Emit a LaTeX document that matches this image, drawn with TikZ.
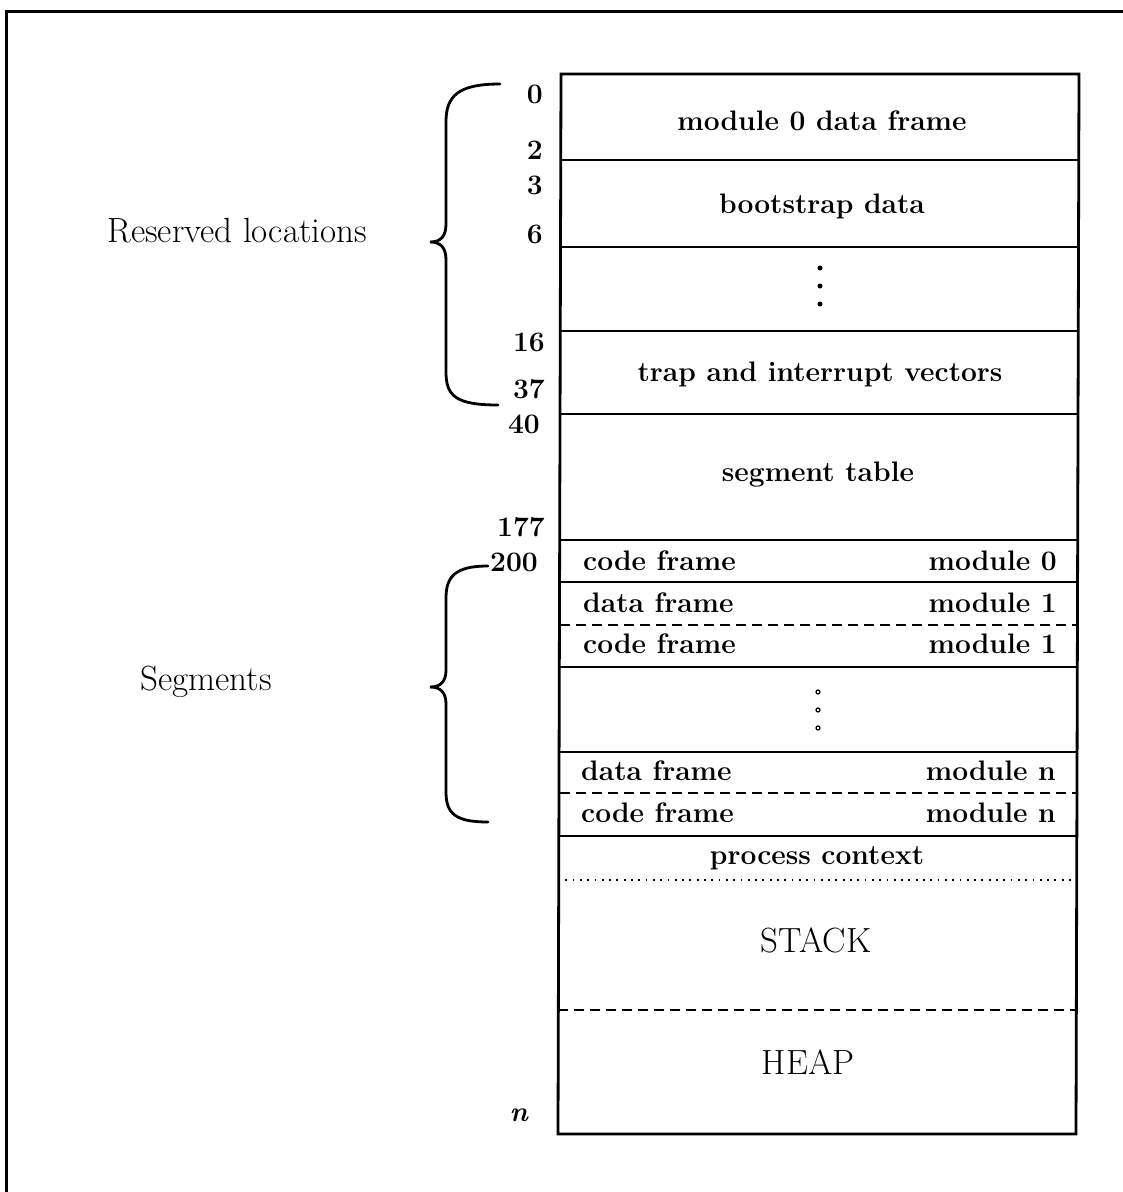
\documentclass[tikz,border=0pt]{standalone}
\usepackage{fontspec}
\begin{document}
\begin{tikzpicture}[x=1pt,y=-1pt,
  frame/.style={line width=3pt},
  sep/.style={line width=2.8pt},
  dsep/.style={line width=2.8pt, dash pattern=on 10pt off 6pt},
  dotsep/.style={line width=1.8pt, dash pattern=on 1.8pt off 5.5pt},
  bl/.style={inner sep=0pt, anchor=base, font=\fontsize{28.2}{33}\selectfont\bfseries},
  bll/.style={bl, anchor=base west},
  blr/.style={bl, anchor=base east},
  rl/.style={inner sep=0pt, anchor=base, font=\fontsize{35}{40}\selectfont},
  brace/.style={line width=2.8pt, line cap=round}]
\useasboundingbox (0,0) rectangle (1123,1192);
% outer frame
\draw[frame] (6,1192) -- (6,11) -- (1123,11);
% main box
\coordinate (TL) at (561,74);
\coordinate (TR) at (1079,74);
\coordinate (BL) at (558,1134);
\coordinate (BR) at (1076,1134);
\draw[sep] (TL) -- (TR) -- (BR) -- (BL) -- cycle;
\foreach \y in {160,247,331,414,540,582,667,752,836}
  \draw[sep] (560,\y) -- (1078,\y);
\foreach \y in {625,793}
  \draw[dsep] (560,\y) -- (1078,\y);
\draw[dsep] (558,1010) -- (1076,1010);
\draw[dotsep] (558,880) -- (1076,880);
% texts in box
\node[bl] (m0) at (822,130) {module 0 data frame};
\node[bl] (bd) at (822,213) {bootstrap data};
\foreach \y in {268,286,304} \fill (820,\y) circle (2.5pt);
\node[bl] (tv) at (820,381) {trap and interrupt vectors};
\node[bl] (st) at (818,481) {segment table};
\node[bll] (c0) at (583,570) {code frame};
\node[blr] (c0m) at (1057,570) {module 0};
\node[bll] (d1) at (583,612) {data frame};
\node[blr] (d1m) at (1057,612) {module 1};
\node[bll] (c1) at (583,653) {code frame};
\node[blr] (c1m) at (1057,653) {module 1};
\foreach \y in {692,710,728} \draw[line width=1.2pt] (818,\y) circle (2pt);
\node[bll] (dn) at (581,780) {data frame};
\node[blr] (dnm) at (1056,780) {module n};
\node[bll] (cn) at (581,822) {code frame};
\node[blr] (cnm) at (1056,822) {module n};
\node[bl] (pc) at (817,864) {process context};
\node[rl] (stack) at (816,952) {STACK};
\node[rl] (heap) at (808,1074) {HEAP};
% addresses
\node[blr] (a0) at (543,103) {0};
\node[blr] (a2) at (543,159) {2};
\node[blr] (a3) at (543,194) {3};
\node[blr] (a6) at (543,243) {6};
\node[blr] (a16) at (545,351) {16};
\node[blr] (a37) at (545,398) {37};
\node[blr] (a40) at (540,433) {40};
\node[blr] (a177) at (545,536) {177};
\node[blr] (a200) at (538,571) {200};
\node[blr, font=\fontsize{28}{33}\selectfont\bfseries\itshape] (an) at (528,1121) {n};
% braces
\draw[brace] (500,84) .. controls (458,84) and (446,96) .. (446,122)
  -- (446,224) .. controls (446,236) and (441,242) .. (430,242)
  .. controls (441,242) and (446,248) .. (446,260)
  -- (446,372) .. controls (446,396) and (456,405) .. (498,405);
\draw[brace] (488,566) .. controls (456,566) and (446,576) .. (446,598)
  -- (446,670) .. controls (446,681) and (441,687) .. (430,687)
  .. controls (441,687) and (446,693) .. (446,704)
  -- (446,792) .. controls (446,814) and (456,822) .. (488,822);
% side labels
\node[rl] (res) at (237,242) {Reserved locations};
\node[rl] (seg) at (206,690) {Segments};
\end{tikzpicture}
\end{document}
